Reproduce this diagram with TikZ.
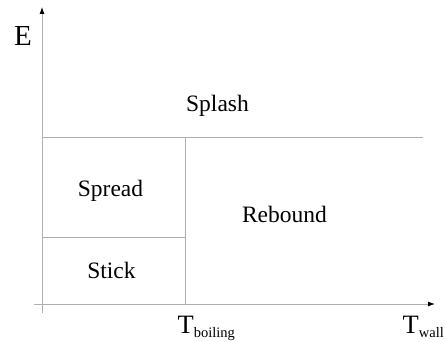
\documentclass[tikz,border=0pt]{standalone}
\usepackage{fontspec}
\setmainfont{Liberation Serif}
\usetikzlibrary{arrows.meta}
\definecolor{lineGray}{RGB}{175,175,175}
\tikzset{
  regline/.style={draw=lineGray, line width=0.9pt},
  axisline/.style={draw=lineGray, line width=0.9pt, -{Latex[length=7pt,width=5pt,color=black]}},
  regname/.style={font=\fontsize{23.5}{23.5}\selectfont, inner sep=0pt, anchor=base},
}
\newcommand{\tlabel}[1]{{\fontsize{26.5}{26.5}\selectfont T}\raisebox{-5pt}{\fontsize{14.5}{14.5}\selectfont #1}}

\begin{document}
\begin{tikzpicture}[x=1pt,y=-1pt]
\useasboundingbox (0,0) rectangle (445,342);
% axes
\coordinate (ybot) at (42,313);
\coordinate (ytop) at (42,7);
\coordinate (xleft) at (34,304);
\coordinate (xright) at (435,304);
\draw[axisline] (ybot) -- (ytop);
\draw[axisline] (xleft) -- (xright);
% region borders
\coordinate (splashL) at (42,137);
\coordinate (splashR) at (423,137);
\coordinate (boilTop) at (185,137);
\coordinate (boilBot) at (185,304);
\coordinate (stickL) at (42,237);
\coordinate (stickR) at (185,237);
\draw[regline] (splashL) -- (splashR);
\draw[regline] (boilTop) -- (boilBot);
\draw[regline] (stickL) -- (stickR);
% labels
\node[regname] (splash) at (217.5,112) {Splash};
\node[regname] (spread) at (110.5,197) {Spread};
\node[regname] (rebound) at (284.5,223) {Rebound};
\node[regname] (stick) at (111.5,278) {Stick};
\node[font=\fontsize{29}{29}\selectfont, inner sep=0pt, anchor=base] (elabel) at (23,46) {E};
\node[inner sep=0pt, anchor=base west] (tboil) at (177.5,333) {\tlabel{boiling}};
\node[inner sep=0pt, anchor=base west] (twall) at (402.5,333) {\tlabel{wall}};
\end{tikzpicture}
\end{document}
